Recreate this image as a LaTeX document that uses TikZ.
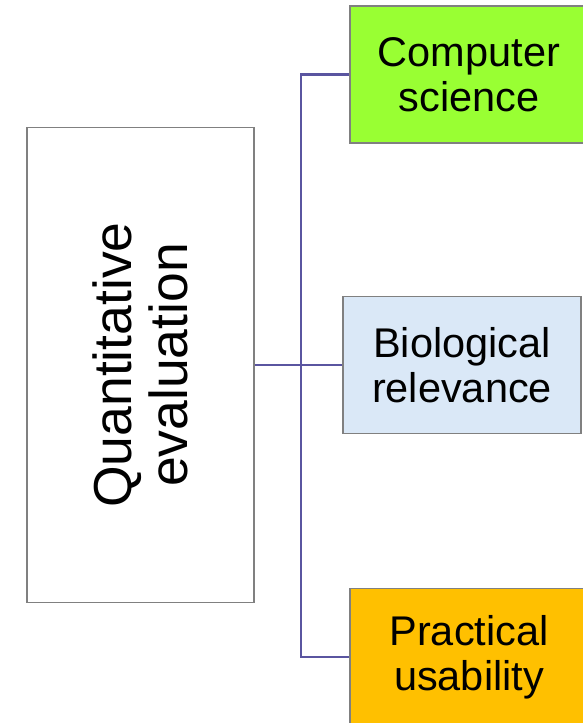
\documentclass[tikz,border=0pt]{standalone}
\usepackage{fontspec}
\setmainfont{Liberation Sans}
\usetikzlibrary{positioning}
\definecolor{csgreen}{HTML}{99FF33}
\definecolor{bioblue}{HTML}{DAE8F7}
\definecolor{usaorange}{HTML}{FFC000}
\definecolor{linkpurple}{HTML}{5A55A0}
\definecolor{edgegrey}{HTML}{808080}
\tikzset{
  every picture/.style={x=1pt, y=-1pt},
  topic/.style={draw=edgegrey, fill=#1, line width=1.2pt, align=center, inner sep=0pt,
    minimum width=238pt, minimum height=137pt, font=\fontsize{41.5}{45}\selectfont},
  topic/.default=white,
  mainbox/.style={draw=edgegrey, line width=1.2pt, align=center, inner sep=0pt,
    font=\fontsize{53.5}{56}\selectfont},
  link/.style={draw=linkpurple, line width=2.2pt},
}

\begin{document}
\begin{tikzpicture}
  \useasboundingbox (0,0) rectangle (583,723);
  % left box, text turned upright (its south side faces right)
  \node[mainbox, rotate=90, minimum width=475pt, minimum height=227pt] (eval) at (140.5,365) {Quantitative\\evaluation};
  % the three topics
  \node[topic=csgreen] (cs) at (469,74.5) {Computer\\science};
  \node[topic=bioblue] (bio) at (462,365) {Biological\\relevance};
  \node[topic=usaorange] (usa) at (469,657) {Practical\\usability};
  % tree lines
  \coordinate (trunk) at (301,365);
  \draw[link] (eval.south) -- (bio.west);
  \draw[link] (cs.west) -| (trunk) |- (usa.west);
\end{tikzpicture}
\end{document}
